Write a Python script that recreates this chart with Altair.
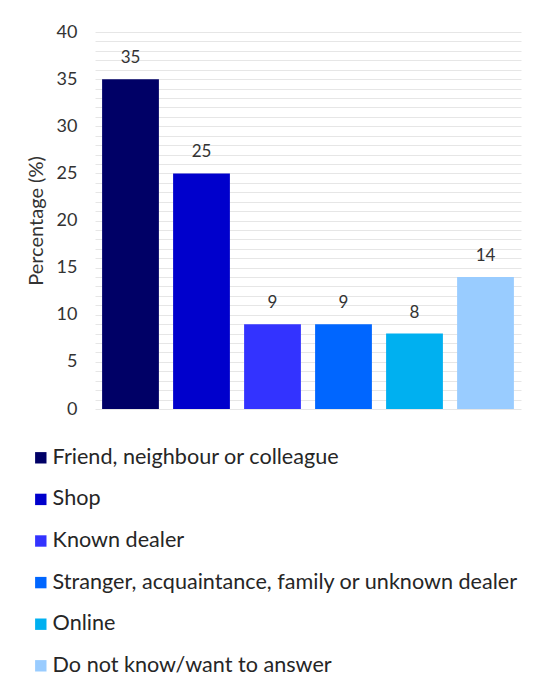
import altair as alt
import pandas as pd

categories = [
    "Friend, neighbour or colleague",
    "Shop",
    "Known dealer",
    "Stranger, acquaintance, family or unknown dealer",
    "Online",
    "Do not know/want to answer",
]
values = [35, 25, 9, 9, 8, 14]
colors = ["#000066", "#0000CC", "#3333FF", "#0066FF", "#00B0F0", "#99CCFF"]
y_ticks = list(range(0, 41))

df = pd.DataFrame({"source": categories, "pct": values})

base = alt.Chart(df).encode(
    x=alt.X("source:N", sort=categories, axis=None,
            scale=alt.Scale(paddingInner=0.2, paddingOuter=0.1)),
    y=alt.Y("pct:Q", scale=alt.Scale(domain=[0, 40], nice=False),
            axis=alt.Axis(values=y_ticks,
                          labelExpr="datum.value % 5 == 0 ? datum.label : ''",
                          title="Percentage (%)", ticks=False, domain=False,
                          gridColor="#E6E6E6", labelFontSize=18, labelColor="#333333",
                          labelPadding=18, labelOverlap=False, labelFlush=False,
                          titleFontSize=20, titleFontWeight="normal",
                          titleColor="#333333", titlePadding=10)),
)

bars = base.mark_bar().encode(
    color=alt.Color("source:N",
                    scale=alt.Scale(domain=categories, range=colors),
                    legend=alt.Legend(title=None, orient="none", legendX=-65, legendY=415,
                                      padding=0, symbolType="square", symbolSize=130,
                                      symbolStrokeWidth=0, labelFontSize=21.6,
                                      labelColor="#262626", rowPadding=18.6,
                                      labelOffset=1, labelLimit=600,
                                      direction="vertical"))
)

labels = base.mark_text(baseline="bottom", dy=-12, fontSize=17, color="#333333").encode(
    text="pct:Q"
)

chart = (bars + labels).properties(
    width=426, height=377,
    autosize=alt.AutoSizeParams(type="none"),
    padding={"left": 87, "top": 24, "right": 4, "bottom": 267},
    background="white",
).configure(font="Lato").configure_view(stroke=None)

chart.save("out.html", embed_options={"renderer": "svg", "actions": False})
